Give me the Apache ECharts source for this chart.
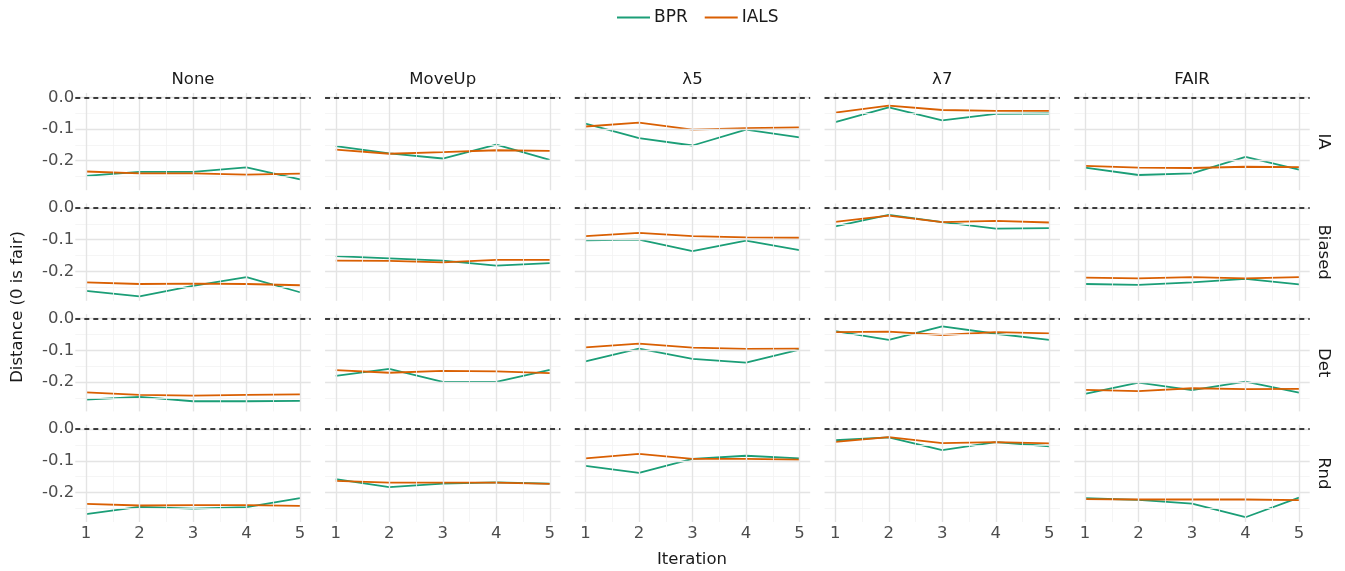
<!DOCTYPE html>
<html><head><meta charset="utf-8">
<script src="https://cdn.jsdelivr.net/npm/echarts@6/dist/echarts.min.js"></script>
<style>html,body{margin:0;padding:0;background:#fff}#c{width:1345px;height:571px}</style>
</head><body><div id="c"></div>
<script>
// ---- data ----
const iterations = [1, 2, 3, 4, 5];
const columnLabels = ['None', 'MoveUp', 'λ5', 'λ7', 'FAIR'];
const rowLabels = ['IA', 'Biased', 'Det', 'Rnd'];
const seriesNames = ['BPR', 'IALS'];
const yTickValues = [0, -0.1, -0.2];
const yTickLabels = ['0.0', '-0.1', '-0.2'];
const xTickLabels = ['1', '2', '3', '4', '5'];

// each array: one list per column (None, MoveUp, λ5, λ7, FAIR), values per iteration 1..5
const bprIA = [
  [-0.248, -0.235, -0.235, -0.221, -0.259],
  [-0.154, -0.177, -0.193, -0.149, -0.197],
  [-0.083, -0.129, -0.152, -0.102, -0.126],
  [-0.078, -0.032, -0.073, -0.052, -0.051],
  [-0.222, -0.245, -0.240, -0.188, -0.228]
];
const ialsIA = [
  [-0.234, -0.240, -0.240, -0.244, -0.241],
  [-0.165, -0.178, -0.173, -0.167, -0.169],
  [-0.092, -0.080, -0.102, -0.097, -0.095],
  [-0.048, -0.026, -0.040, -0.043, -0.043],
  [-0.216, -0.222, -0.223, -0.219, -0.220]
];
const bprBiased = [
  [-0.262, -0.279, -0.246, -0.218, -0.266],
  [-0.152, -0.159, -0.166, -0.182, -0.174],
  [-0.102, -0.100, -0.136, -0.103, -0.133],
  [-0.058, -0.022, -0.045, -0.065, -0.064],
  [-0.240, -0.243, -0.235, -0.224, -0.241]
];
const ialsBiased = [
  [-0.235, -0.240, -0.239, -0.240, -0.244],
  [-0.166, -0.167, -0.172, -0.164, -0.164],
  [-0.089, -0.079, -0.089, -0.093, -0.094],
  [-0.044, -0.024, -0.045, -0.041, -0.046],
  [-0.220, -0.222, -0.218, -0.222, -0.218]
];
const bprDet = [
  [-0.256, -0.247, -0.261, -0.261, -0.260],
  [-0.181, -0.159, -0.200, -0.200, -0.162],
  [-0.135, -0.095, -0.127, -0.139, -0.098],
  [-0.040, -0.067, -0.025, -0.048, -0.067],
  [-0.238, -0.202, -0.226, -0.199, -0.234]
];
const ialsDet = [
  [-0.233, -0.241, -0.243, -0.241, -0.239],
  [-0.163, -0.171, -0.165, -0.167, -0.172],
  [-0.091, -0.079, -0.092, -0.096, -0.095],
  [-0.043, -0.041, -0.052, -0.043, -0.047],
  [-0.225, -0.229, -0.220, -0.223, -0.222]
];
const bprRnd = [
  [-0.268, -0.245, -0.251, -0.246, -0.218],
  [-0.158, -0.183, -0.172, -0.168, -0.172],
  [-0.116, -0.138, -0.094, -0.084, -0.092],
  [-0.035, -0.026, -0.066, -0.041, -0.054],
  [-0.218, -0.223, -0.235, -0.278, -0.216]
];
const ialsRnd = [
  [-0.236, -0.241, -0.240, -0.240, -0.242],
  [-0.163, -0.169, -0.169, -0.169, -0.173],
  [-0.092, -0.078, -0.094, -0.094, -0.096],
  [-0.040, -0.025, -0.044, -0.041, -0.045],
  [-0.221, -0.222, -0.222, -0.222, -0.224]
];
const fairLine = 0;

// ---- layout / style ----
const bprByRow = [bprIA, bprBiased, bprDet, bprRnd];
const ialsByRow = [ialsIA, ialsBiased, ialsDet, ialsRnd];
const COLORS = ['#1b9e77', '#d95f02'];
const FONT = 'DejaVu Sans';
const colLeft0 = 75.3, colStep = 249.75, panelW = 235.4;
const rowTop0 = 92.9, rowStep = 110.6, panelH = 97.3;
const X_MIN = 0.8, X_MAX = 5.2, Y_MIN = -0.293, Y_MAX = 0.014;

const grids = [], xAxes = [], yAxes = [], series = [], graphics = [];

const majorStyle = { color: '#e4e4e4', width: 1.4, type: 'solid' };
const minorStyle = { color: '#f2f2f2', width: 0.8, type: 'solid' };

for (let r = 0; r < rowLabels.length; r++) {
  for (let c = 0; c < columnLabels.length; c++) {
    const idx = grids.length;
    grids.push({ left: colLeft0 + c * colStep, top: rowTop0 + r * rowStep, width: panelW, height: panelH });
    xAxes.push({
      gridIndex: idx, type: 'value', min: X_MIN, max: X_MAX,
      axisLine: { show: false }, axisTick: { show: false }, splitLine: { show: false },
      axisLabel: {
        show: r === rowLabels.length - 1, customValues: iterations,
        formatter: v => xTickLabels[iterations.indexOf(Math.round(v))] || '',
        color: '#4d4d4d', fontFamily: FONT, fontSize: 16.5, margin: 3
      }
    });
    yAxes.push({
      gridIndex: idx, type: 'value', min: Y_MIN, max: Y_MAX,
      axisLine: { show: false }, axisTick: { show: false }, splitLine: { show: false },
      axisLabel: {
        show: c === 0, customValues: yTickValues,
        formatter: v => { const i = yTickValues.findIndex(t => Math.abs(t - v) < 1e-6); return i >= 0 ? yTickLabels[i] : ''; },
        color: '#4d4d4d', fontFamily: FONT, fontSize: 16.5, margin: 1
      }
    });
    // grid lines
    const gl = [];
    [-0.25, -0.15, -0.05].forEach(v => gl.push({ yAxis: v, lineStyle: minorStyle }));
    [1.5, 2.5, 3.5, 4.5].forEach(v => gl.push({ xAxis: v, lineStyle: minorStyle }));
    [-0.2, -0.1, 0].forEach(v => gl.push({ yAxis: v, lineStyle: majorStyle }));
    iterations.forEach(v => gl.push({ xAxis: v, lineStyle: majorStyle }));
    series.push({
      type: 'line', xAxisIndex: idx, yAxisIndex: idx, data: [], silent: true, z: 0,
      markLine: { silent: true, symbol: 'none', label: { show: false }, animation: false, data: gl }
    });
    const groups = [bprByRow[r][c], ialsByRow[r][c]];
    groups.forEach((vals, s) => {
      series.push({
        name: seriesNames[s], type: 'line', xAxisIndex: idx, yAxisIndex: idx,
        data: iterations.map((it, k) => [it, vals[k]]),
        showSymbol: false, symbol: 'none', silent: true, z: 3 + s,
        lineStyle: { color: COLORS[s], width: 1.8 }, itemStyle: { color: COLORS[s] }
      });
    });
    series.push({
      type: 'line', xAxisIndex: idx, yAxisIndex: idx, data: [], silent: true, z: 10,
      markLine: { silent: true, symbol: 'none', label: { show: false }, animation: false,
        data: [{ yAxis: fairLine, lineStyle: { color: '#000', width: 1.5, type: [5, 4] } }] }
    });
  }
}

columnLabels.forEach((t, c) => graphics.push({
  type: 'text', x: colLeft0 + c * colStep + panelW / 2, y: 80,
  style: { text: t, fill: '#1a1a1a', font: `16.5px "${FONT}"`, textAlign: 'center', textVerticalAlign: 'middle' }
}));
rowLabels.forEach((t, r) => graphics.push({
  type: 'text', x: 1323, y: rowTop0 + r * rowStep + panelH / 2, rotation: -Math.PI / 2,
  style: { text: t, fill: '#1a1a1a', font: `16.5px "${FONT}"`, textAlign: 'center', textVerticalAlign: 'middle' }
}));
graphics.push({
  type: 'text', x: 692, y: 560,
  style: { text: 'Iteration', fill: '#1a1a1a', font: `16.5px "${FONT}"`, textAlign: 'center', textVerticalAlign: 'middle' }
});
graphics.push({
  type: 'text', x: 18, y: 307, rotation: Math.PI / 2,
  style: { text: 'Distance (0 is fair)', fill: '#1a1a1a', font: `16.5px "${FONT}"`, textAlign: 'center', textVerticalAlign: 'middle' }
});

const chart = echarts.init(document.getElementById('c'));
chart.setOption({
  animation: false,
  backgroundColor: '#fff',
  legend: {
    top: 4, left: 612, data: seriesNames, icon: 'rect', itemWidth: 33, itemHeight: 2, itemGap: 17,
    textStyle: { fontFamily: FONT, fontSize: 17, color: '#1a1a1a', padding: [0, 0, 0, -1] }, selectedMode: false
  },
  grid: grids, xAxis: xAxes, yAxis: yAxes, series: series, graphic: graphics
});
</script></body></html>
